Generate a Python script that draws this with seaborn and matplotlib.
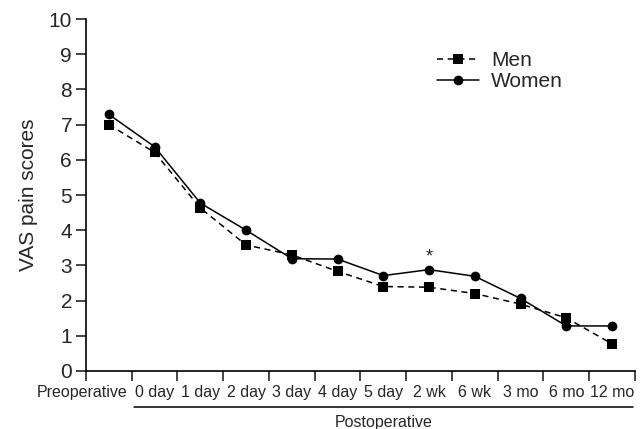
import numpy as np
import pandas as pd
import matplotlib
matplotlib.use('Agg')
import matplotlib.pyplot as plt
import matplotlib.transforms as mtransforms
import seaborn as sns

# values
periods = ['Preoperative', '0 day', '1 day', '2 day', '3 day', '4 day', '5 day',
           '2 wk', '6 wk', '3 mo', '6 mo', '12 mo']
men = [7.0, 6.21, 4.63, 3.58, 3.30, 2.83, 2.40, 2.38, 2.20, 1.90, 1.51, 0.77]
women = [7.29, 6.37, 4.77, 4.0, 3.19, 3.18, 2.71, 2.88, 2.69, 2.06, 1.28, 1.28]
signif = ['2 wk']

df = pd.DataFrame({
    'period': periods * 2,
    'score': men + women,
    'sex': ['Men'] * len(periods) + ['Women'] * len(periods),
})

sns.set_style('ticks')
plt.rcParams['font.family'] = ['Liberation Sans', 'DejaVu Sans']

fig = plt.figure(figsize=(6.44, 4.29), dpi=100)
ax = fig.add_axes([0.1335, 0.1352, 0.8525, 0.8205])

sns.lineplot(data=df, x='period', y='score', style='sex', color='black',
             markers={'Men': 's', 'Women': 'o'},
             dashes={'Men': (4, 3), 'Women': ''},
             markersize=7, markeredgewidth=0, linewidth=1.1, ax=ax)

# asterisk for significant difference
for p in signif:
    i = periods.index(p)
    ax.text(i, women[i] + 0.13, '*', ha='center', va='bottom', fontsize=13)

ax.set_xlim(-0.5, len(periods) - 0.5)
ax.set_ylim(0, 10)
ax.set_yticks(range(0, 11))
ax.set_xticks(np.arange(len(periods) + 1) - 0.5)
ax.set_xticklabels([])
ax.set_xticks(np.arange(len(periods)), minor=True)
ax.set_xticklabels(periods, minor=True, fontsize=11.5)
ax.tick_params(axis='x', which='minor', length=0, pad=10)
ax.tick_params(axis='x', which='major', length=7, width=1.2, direction='out')
ax.tick_params(axis='y', length=7, width=1.2, labelsize=15, pad=3)
for s in ['left', 'bottom']:
    ax.spines[s].set_linewidth(1.2)
    ax.spines[s].set_color('black')
sns.despine(ax=ax)

# first label sits right-aligned just left of the first boundary tick
first = ax.xaxis.get_minor_ticks()[0].label1
first.set_horizontalalignment('right')
first.set_transform(first.get_transform() +
                    mtransforms.ScaledTranslation(0.185, 0, fig.dpi_scale_trans))

ax.set_xlabel('')
ax.set_ylabel('VAS pain scores', fontsize=15, labelpad=8)

# postoperative bracket under the axis
trans = mtransforms.blended_transform_factory(ax.transData, ax.transAxes)
ax.plot([0.55, 11.45], [-0.101, -0.101], color='black', lw=1.1,
        transform=trans, clip_on=False)
ax.text(6.0, -0.125, 'Postoperative', transform=trans, ha='center', va='top',
        fontsize=11.5)

leg = ax.legend(loc='upper left', bbox_to_anchor=(0.605, 0.962), frameon=False,
                fontsize=15, handlelength=2.0, handletextpad=0.6,
                labelspacing=0.1)

fig.savefig('out.png', dpi=100)
